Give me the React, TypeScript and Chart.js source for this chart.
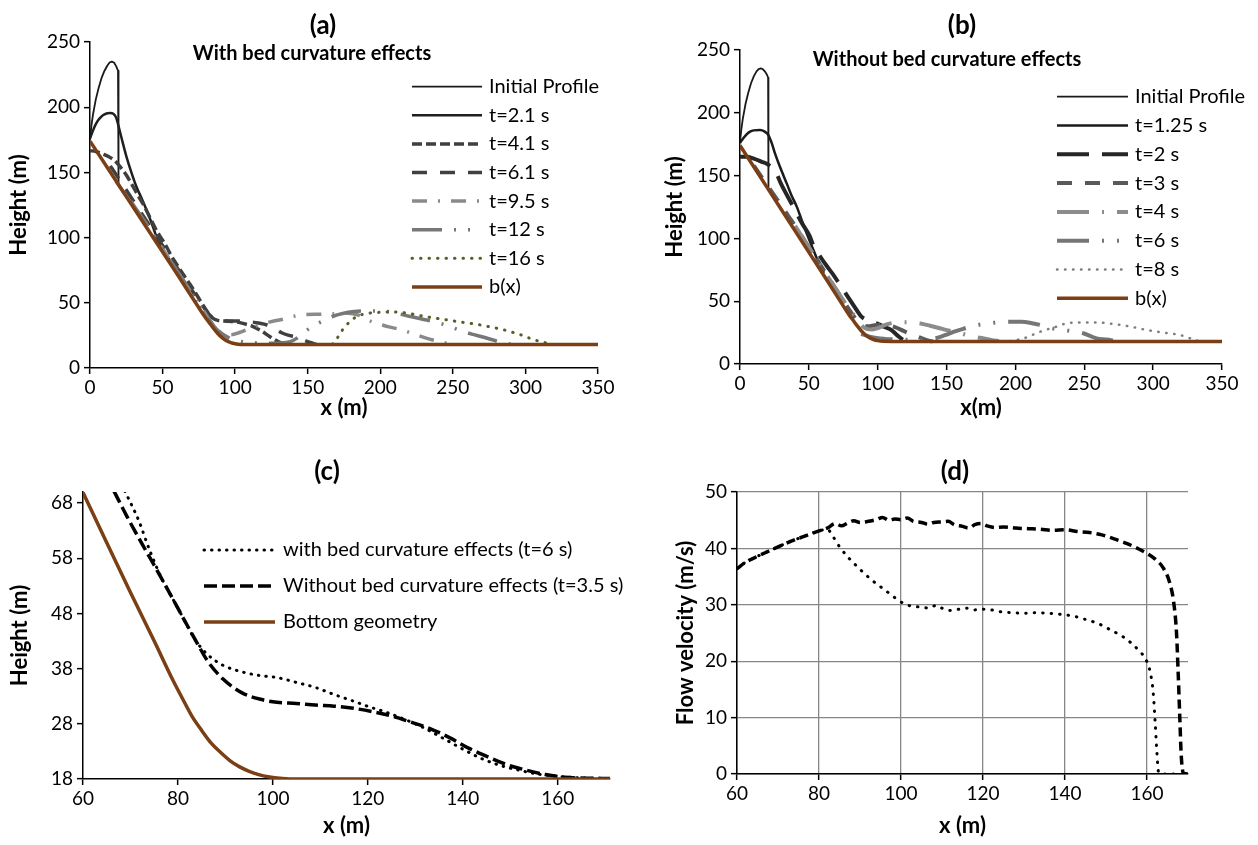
import React, { useEffect, useRef } from 'react';
import { Chart, registerables } from 'chart.js';

Chart.register(...registerables);

type Pt = [number, number];
const FONT = 'Lato, "Open Sans", "DejaVu Sans", sans-serif';
const BROWN = '#7b3f15';
const TICK_SIZE = 19;
const AXIS_TITLE_SIZE = 22;
const LEGEND_SIZE = 20;

// ---------------- Panel (a): with bed curvature ----------------
const A_LABELS = ['Initial Profile', 't=2.1 s', 't=4.1 s', 't=6.1 s', 't=9.5 s', 't=12 s', 't=16 s', 'b(x)'];
const A_INIT: Pt[] = [[0, 175], [1, 186], [2, 194], [3, 200], [4, 206], [6, 215], [8, 222.5], [10, 228], [12, 232], [13.5, 234.3], [15, 235], [16.5, 234.3], [18, 231.5], [19.3, 228], [19.6, 226], [19.7, 140]];
const A_T21: Pt[] = [[0, 176], [2, 182], [4, 187], [6, 190.5], [8, 193], [10, 194.5], [12, 195.3], [14, 195.5], [16, 195], [18, 192], [20, 184], [22.5, 173], [25, 162.5], [28.5, 150], [32, 139], [36, 129], [39, 121], [42.5, 111], [46, 100], [48, 95], [52, 88], [56, 80], [60, 73]];
const A_T41: Pt[] = [[0, 166.7], [4, 166], [9, 164], [13, 162], [17, 159], [21, 154], [25, 148], [29, 140.5], [33, 132.5], [37, 125], [41, 116], [46, 105], [50, 98], [53, 92.4], [56, 86], [60, 79], [65, 70.5], [69, 64], [73, 57], [76, 51.5], [80, 44.5], [84, 38.7], [88, 36.5], [94, 36], [100, 35.5], [106, 34], [112, 32], [118, 28.5], [124, 24], [130, 20], [135, 18.3]];
const A_T61: Pt[] = [[14, 155], [20, 145], [30, 128], [40, 111], [50, 94], [60, 77], [70, 60], [78, 47], [84, 39], [90, 36.5], [97, 36], [104, 36], [110, 35.5], [116, 34.5], [122, 33], [127, 30.5], [132, 27], [137, 25], [141, 24], [146, 22], [151, 19.8], [156, 18.2]];
const A_T95: Pt[] = [[18, 143], [25, 132], [32, 121], [40, 108.5], [50, 91.5], [60, 74.5], [70, 57.5], [78, 44.5], [84, 34], [88, 29], [92, 26], [97, 25.5], [103, 27.2], [110, 30.3], [118, 33.5], [126, 35.8], [133, 37.4], [140, 39.5], [147, 41], [155, 41.2], [163, 41.2], [170, 41.7], [178, 42], [185, 40.5], [190, 38], [194, 35.6], [200, 33.5], [206, 31.5], [214, 29.5], [222, 26.5], [230, 23.5], [238, 21], [245, 19.2], [252, 18.2]];
const A_T12: Pt[] = [[28, 128], [38, 112], [48, 95], [58, 78], [68, 61], [76, 47], [82, 37.5], [87, 30], [92, 25.5], [98, 22], [105, 20.2], [115, 19.2], [125, 19], [133, 19.3], [138, 20.2], [142, 22.5], [147, 27], [152, 31], [156, 33.5], [161, 36.5], [167, 39.5], [174, 41.8], [182, 43.3], [190, 43.8], [198, 43.8], [205, 43.3], [212, 41.8], [220, 39.7], [228.5, 37.6], [239, 35], [248, 31.7], [256, 28.4], [263, 26], [270, 24], [280, 20.7], [287, 18.8], [292, 18]];
const A_T16: Pt[] = [[167, 18.3], [169, 20.5], [171, 24], [173.5, 28.5], [176, 32], [179, 35.5], [182.5, 38.6], [188, 41.2], [194, 42.3], [200, 42.7], [209, 43], [215, 42.5], [220.5, 41.7], [226, 40.5], [232, 39.2], [243, 37.4], [255, 35.3], [266, 33.6], [278, 31], [286, 29], [292, 27.1], [298, 25], [303, 22.8], [308, 21], [312, 20], [316, 18.5], [320, 18]];
const BED_AB: Pt[] = [[0, 174], [20, 140], [40, 106], [60, 72], [76, 44.5], [79, 39.5], [82, 35], [85, 30.5], [88, 26.5], [91, 23.3], [94, 21], [97, 19.5], [100, 18.6], [104, 18.1], [110, 18], [350, 18]];

// ---------------- Panel (b): without bed curvature ----------------
const B_LABELS = ['Initial Profile', 't=1.25 s', 't=2 s', 't=3 s', 't=4 s', 't=6 s', 't=8 s', 'b(x)'];
const B_INIT: Pt[] = [[0, 177], [1, 187], [2, 195], [3, 201], [4, 207], [6, 216], [8, 223.5], [10, 229], [12, 233], [13.5, 234.8], [15, 235.3], [16.5, 234.8], [18, 233], [19.5, 230.5], [20.4, 228], [20.6, 226], [20.7, 140]];
const B_T125: Pt[] = [[0, 176], [2.4, 179.7], [5, 183], [7.3, 185], [10, 186], [14.5, 186.3], [18, 185], [20.6, 182.3], [23, 176], [25.4, 167.7], [29, 157], [33.9, 143.8], [37.5, 134], [41.2, 125.3], [45, 114], [48.4, 104], [53.3, 90.8], [57, 81], [61, 72.5]];
const B_T2: Pt[] = [[0, 165], [4.8, 165], [10, 163.5], [15.7, 161], [20, 159], [25.4, 154], [30, 143], [36.3, 130], [40, 122.6], [45, 112], [50.8, 101.4], [53, 95], [58, 86], [63, 78], [67.8, 71], [72.6, 63], [78, 54], [84.7, 43], [88, 38], [92, 35], [96, 33.5], [100, 32], [105, 29.5], [110, 27], [114, 23], [118, 19.5], [121, 18.2]];
const B_T3: Pt[] = [[10, 158], [15, 150], [20.6, 141], [25, 134], [29, 128], [35, 118], [40, 110], [45, 101.5], [50, 93], [55, 85], [60, 76], [65, 67.5], [70, 59], [75, 50.5], [80, 42], [84, 36], [88, 32], [93, 30], [99, 31], [105, 31], [112, 29.5], [120, 25.7], [126, 23], [132, 20.5], [137, 18.5], [140, 18]];
const B_T4: Pt[] = [[40, 110], [50, 93], [60, 76], [70, 59], [78, 46], [84, 37], [88, 31], [92, 28], [96, 27.5], [100, 28.5], [105, 31], [111, 32.7], [118, 33.2], [125, 33], [131, 32.3], [138, 30.5], [145, 28.5], [150, 27], [157, 25.5], [165, 23], [171, 21.5], [177, 20.4], [183, 19], [188, 18.2]];
const B_T6: Pt[] = [[88, 24], [95, 21.5], [105, 20], [115, 19.5], [125, 19.2], [135, 19.5], [142, 20.5], [148.8, 22.9], [155, 25.5], [162, 28], [171.8, 30.9], [181.5, 32.4], [193.7, 33.7], [204.5, 33.7], [212, 32.5], [219, 30.8], [226.3, 28.5], [235, 27], [242, 26], [249.3, 24.5], [255, 22], [259, 20.4], [266.7, 19.5], [272, 18.5], [276, 18]];
const B_T8: Pt[] = [[196, 18.2], [201, 19.2], [205.7, 20.3], [212, 23], [220, 26.5], [230, 29.8], [237.2, 32.4], [246.9, 33], [259, 33], [271, 31.9], [283.2, 29.8], [295.3, 27.1], [307.4, 25], [319.5, 23.1], [326.8, 20.5], [331, 19], [334, 18.2]];

// ---------------- Panel (c): surface comparison ----------------
const C_LABELS = ['with bed curvature effects (t=6 s)', 'Without bed curvature effects (t=3.5 s)', 'Bottom geometry'];
const C_WITH: Pt[] = [[68.8, 70.2], [71.7, 64.9], [74.1, 59.3], [76.6, 54.3], [79, 50.5], [81.4, 46.7], [83.8, 43], [86.3, 40.5], [89.5, 38.6], [93.5, 37.4], [97.6, 36.7], [100.8, 36.4], [104.9, 35.5], [108.9, 34.6], [112.9, 33.3], [117, 32.1], [120.2, 31.1], [123.5, 30.2], [127.5, 28.9], [131.5, 27.4], [135.6, 25.5], [139.6, 23.6], [143.7, 21.8], [147.7, 20.5], [151.8, 19.6], [155.8, 18.9], [159.8, 18.5], [163.9, 18.25], [171, 18]];
const C_WITHOUT: Pt[] = [[66.5, 70.2], [69.3, 65.5], [72.5, 60.5], [75.8, 55.5], [79, 50.5], [81.4, 46.7], [83.8, 43], [86.3, 39.3], [89.5, 36.1], [93.5, 33.6], [97.6, 32.4], [100.8, 31.9], [104.9, 31.7], [108.9, 31.4], [112.9, 31.2], [117, 30.8], [121, 30.2], [125.1, 29.4], [129.1, 28.3], [133.2, 27.1], [137.2, 25.5], [141.2, 23.6], [145.3, 22], [149.3, 20.6], [153.4, 19.6], [157.4, 18.8], [161.5, 18.3], [166, 18.15], [171, 18.1]];
const C_BED: Pt[] = [[60, 69.9], [65, 60.8], [70, 51.8], [75, 43], [79, 35.8], [81, 32.5], [83, 29.3], [85, 26.8], [87, 24.5], [89, 22.8], [91, 21.3], [93, 20.2], [95, 19.4], [97, 18.8], [99, 18.4], [102, 18.1], [105, 18], [171, 18]];

// ---------------- Panel (d): flow velocity ----------------
const D_LABELS = ['With bed curvature effects', 'Without bed curvature effects'];
const D_WITH: Pt[] = [[60, 36.4], [62, 37.5], [65, 38.6], [68, 39.6], [71, 40.6], [74, 41.5], [77, 42.3], [80, 43.1], [82, 43.4], [83.5, 42], [85, 40.3], [87, 38.5], [89, 37], [91, 35.6], [93, 34.3], [95, 33.2], [97, 32.1], [99, 31], [101, 30.1], [103, 29.7], [105, 29.6], [107, 29.4], [108.5, 29.9], [110, 29.4], [112, 29.0], [114, 29.2], [116, 29.4], [118, 29.1], [120, 29.2], [122, 29.1], [124, 28.8], [127, 28.6], [130, 28.5], [133, 28.6], [136, 28.5], [139, 28.3], [142, 28.0], [145, 27.4], [148, 26.7], [151, 25.6], [154, 24.4], [156, 23.3], [158, 21.9], [159.8, 20.2], [160.8, 18], [161.5, 14.5], [162, 9], [162.4, 4], [162.8, 0.4], [163.5, 0], [170, 0]];
const D_WITHOUT: Pt[] = [[60, 36.4], [62, 37.5], [65, 38.6], [68, 39.6], [71, 40.6], [74, 41.5], [77, 42.3], [80, 43.1], [82, 43.6], [84, 44.4], [85.5, 44.0], [87, 44.5], [88.5, 44.9], [90, 44.6], [92, 44.8], [94, 45.1], [95.5, 45.5], [97, 45.0], [98.5, 45.2], [100, 45.1], [101.5, 45.4], [103, 44.8], [105, 44.6], [106.5, 44.3], [108, 44.6], [110, 44.7], [111.5, 44.8], [113, 44.2], [115, 43.9], [116.5, 43.6], [118, 44.2], [119.5, 44.4], [121, 44.0], [123, 43.7], [125, 43.8], [128, 43.6], [131, 43.5], [134, 43.4], [137, 43.2], [140, 43.3], [143, 43.0], [146, 42.8], [149, 42.4], [152, 41.7], [155, 40.9], [158, 39.9], [160, 39.1], [162, 38.1], [164, 36.5], [165.5, 34], [166.5, 30.5], [167.2, 25], [167.6, 18], [168, 10], [168.3, 4], [168.6, 1], [169, 0.1], [170, 0]];

// ---------------- ticks ----------------
const AB_X_TICKS = [0, 50, 100, 150, 200, 250, 300, 350];
const AB_Y_TICKS = [0, 50, 100, 150, 200, 250];
const C_X_TICKS = [60, 80, 100, 120, 140, 160];
const C_Y_TICKS = [18, 28, 38, 48, 58, 68];
const D_X_TICKS = [60, 80, 100, 120, 140, 160];
const D_Y_TICKS = [0, 10, 20, 30, 40, 50];

const insideLegend = {
  id: 'insideLegend',
  afterDraw(chart: any, _args: any, o: any) {
    if (!o || !o.show) return;
    const ctx = chart.ctx;
    ctx.save();
    chart.data.datasets.forEach((ds: any, i: number) => {
      const y = o.y0 + i * o.dy;
      ctx.beginPath();
      ctx.setLineDash(ds.borderDash || []);
      ctx.lineCap = ds.borderCapStyle || 'butt';
      ctx.lineWidth = ds.borderWidth;
      ctx.strokeStyle = ds.borderColor;
      ctx.moveTo(o.x0, y);
      ctx.lineTo(o.x1, y);
      ctx.stroke();
      ctx.setLineDash([]);
      ctx.fillStyle = '#000';
      ctx.font = `${o.size}px ${FONT}`;
      ctx.textBaseline = 'middle';
      ctx.textAlign = 'left';
      ctx.fillText(ds.label, o.tx, y);
    });
    ctx.restore();
  },
};

function ds(label: string, data: Pt[], color: string, width: number, dash: number[], order: number, opts: any = {}) {
  return {
    label,
    data: data.map(([x, y]) => ({ x, y })),
    borderColor: color,
    backgroundColor: color,
    borderWidth: width,
    borderDash: dash,
    borderCapStyle: opts.cap || 'butt',
    borderJoinStyle: 'round',
    pointRadius: 0,
    pointHoverRadius: 0,
    fill: false,
    cubicInterpolationMode: opts.straight ? 'default' : 'monotone',
    tension: opts.straight ? 0 : 0.4,
    order,
  };
}

function xScale(min: number, max: number, ticks: number[], title: string, height: number, tpb: number, grid: boolean) {
  return {
    type: 'linear', position: 'bottom', min, max,
    afterBuildTicks: (s: any) => { s.ticks = ticks.map((v) => ({ value: v })); },
    afterFit: (s: any) => { s.height = height; },
    border: { display: true, color: '#000', width: 1.5 },
    grid: { display: true, drawOnChartArea: grid, color: '#878787', lineWidth: 1.3, drawTicks: true, tickLength: 6, tickColor: '#000', tickWidth: 1.5 },
    ticks: { color: '#000', font: { family: FONT, size: TICK_SIZE }, padding: 2, autoSkip: false, maxRotation: 0 },
    title: { display: true, text: title, color: '#000', font: { family: FONT, size: AXIS_TITLE_SIZE, weight: 'bold' }, padding: { top: 0, bottom: tpb } },
  };
}

function yScale(min: number, max: number, ticks: number[], title: string, width: number, tpt: number, grid: boolean) {
  return {
    type: 'linear', position: 'left', min, max,
    afterBuildTicks: (s: any) => { s.ticks = ticks.map((v) => ({ value: v })); },
    afterFit: (s: any) => { s.width = width; },
    border: { display: true, color: '#000', width: 1.5 },
    grid: { display: true, drawOnChartArea: grid, color: '#878787', lineWidth: 1.3, drawTicks: true, tickLength: 6, tickColor: '#000', tickWidth: 1.5 },
    ticks: { color: '#000', font: { family: FONT, size: TICK_SIZE }, padding: 4, autoSkip: false },
    title: { display: true, text: title, color: '#000', font: { family: FONT, size: AXIS_TITLE_SIZE, weight: 'bold' }, padding: { top: tpt, bottom: 0 } },
  };
}

function baseConfig(datasets: any[], padding: any, x: any, y: any, legend: any) {
  return {
    type: 'line',
    data: { datasets },
    options: {
      responsive: false,
      animation: false,
      layout: { padding },
      scales: { x, y },
      plugins: { legend: { display: false }, tooltip: { enabled: false }, insideLegend: legend },
      events: [],
    },
    plugins: [insideLegend],
  };
}

function configA() {
  const n = 8;
  const datasets = [
    ds(A_LABELS[0], A_INIT, '#1a1a1a', 1.8, [], n - 0, { straight: true }),
    ds(A_LABELS[1], A_T21, '#1f1f1f', 2.5, [], n - 1),
    ds(A_LABELS[2], A_T41, '#3f3f3f', 3.5, [10, 4], n - 2),
    ds(A_LABELS[3], A_T61, '#404040', 3.5, [15, 13], n - 3),
    ds(A_LABELS[4], A_T95, '#8a8a8a', 3.5, [15, 11, 2, 11], n - 4),
    ds(A_LABELS[5], A_T12, '#777777', 3.5, [30, 12, 2, 12, 2, 12], n - 5),
    ds(A_LABELS[6], A_T16, '#4f6228', 3, [0.5, 8], n - 6, { cap: 'round' }),
    ds(A_LABELS[7], BED_AB, BROWN, 3.5, [], 0),
  ];
  return baseConfig(
    datasets,
    { left: 6, right: 31, top: 42, bottom: 0 },
    xScale(0, 350, AB_X_TICKS, 'x (m)', 72, 18.8, false),
    yScale(0, 250, AB_Y_TICKS, 'Height (m)', 84, 0, false),
    { show: true, x0: 412, x1: 482, tx: 489, y0: 86.7, dy: 28.6, size: LEGEND_SIZE },
  );
}

function configB() {
  const n = 8;
  const datasets = [
    ds(B_LABELS[0], B_INIT, '#1a1a1a', 1.8, [], n - 0, { straight: true }),
    ds(B_LABELS[1], B_T125, '#1a1a1a', 2.5, [], n - 1),
    ds(B_LABELS[2], B_T2, '#262626', 4, [32, 13], n - 2),
    ds(B_LABELS[3], B_T3, '#595959', 4, [15, 13], n - 3),
    ds(B_LABELS[4], B_T4, '#8c8c8c', 4, [32, 13, 2, 13], n - 4),
    ds(B_LABELS[5], B_T6, '#767676', 4, [32, 13, 2, 13, 2, 13], n - 5),
    ds(B_LABELS[6], B_T8, '#7f7f7f', 2.5, [0.5, 7.5], n - 6, { cap: 'round' }),
    ds(B_LABELS[7], BED_AB, BROWN, 3.5, [], 0),
  ];
  return baseConfig(
    datasets,
    { left: 33, right: 36, top: 50, bottom: 0 },
    xScale(0, 350, AB_X_TICKS, 'x(m)', 76, 18.8, false),
    yScale(0, 250, AB_Y_TICKS, 'Height (m)', 78, 0, false),
    { show: true, x0: 428, x1: 499, tx: 506, y0: 96.7, dy: 28.8, size: LEGEND_SIZE },
  );
}

function configC() {
  const datasets = [
    ds(C_LABELS[0], C_WITH, '#000', 3, [0.5, 7], 2, { cap: 'round' }),
    ds(C_LABELS[1], C_WITHOUT, '#000', 3.5, [13, 5], 1),
    ds(C_LABELS[2], C_BED, BROWN, 3.5, [], 0),
  ];
  return baseConfig(
    datasets,
    { left: 7, right: 30, top: 72, bottom: 0 },
    xScale(60, 171, C_X_TICKS, 'x (m)', 81, 20.8, false),
    yScale(18, 70, C_Y_TICKS, 'Height (m)', 76, 0, false),
    { show: true, x0: 204, x1: 275, tx: 283, y0: 130, dy: 36, size: LEGEND_SIZE },
  );
}

function configD() {
  const datasets = [
    ds(D_LABELS[0], D_WITH, '#000', 3, [0.5, 8], 1, { cap: 'round' }),
    ds(D_LABELS[1], D_WITHOUT, '#000', 3.5, [9, 5], 0),
  ];
  return baseConfig(
    datasets,
    { left: 44, right: 70, top: 72, bottom: 0 },
    xScale(60, 170, D_X_TICKS, 'x (m)', 86, 20.8, true),
    yScale(0, 50, D_Y_TICKS, 'Flow velocity (m/s)', 64, 0, true),
    { show: false },
  );
}

function Panel({ left, top, width, height, make }: { left: number; top: number; width: number; height: number; make: () => any }) {
  const ref = useRef<HTMLCanvasElement>(null);
  useEffect(() => {
    const chart = new Chart(ref.current as HTMLCanvasElement, make());
    return () => chart.destroy();
  }, []);
  return (
    <div style={{ position: 'absolute', left, top, width, height }}>
      <canvas ref={ref} width={width} height={height} style={{ width, height, display: 'block' }} />
    </div>
  );
}

function Label({ x, y, size, text }: { x: number; y: number; size: number; text: string }) {
  return (
    <div
      style={{
        position: 'absolute', left: x, top: y, transform: 'translate(-50%, -50%)',
        fontFamily: FONT, fontWeight: 'bold', fontSize: size, whiteSpace: 'nowrap', color: '#000', lineHeight: 1,
      }}
    >
      {text}
    </div>
  );
}

export default function App() {
  return (
    <div style={{ position: 'absolute', left: 0, top: 0, width: 1258, height: 845, background: '#fff', overflow: 'hidden' }}>
      <Panel left={0} top={0} width={629} height={440} make={configA} />
      <Panel left={629} top={0} width={629} height={440} make={configB} />
      <Panel left={0} top={420} width={640} height={440} make={configC} />
      <Panel left={629} top={420} width={629} height={440} make={configD} />
      <Label x={323} y={24} size={26} text="(a)" />
      <Label x={312} y={52} size={20} text="With bed curvature effects" />
      <Label x={962} y={24} size={26} text="(b)" />
      <Label x={947} y={58} size={20} text="Without bed curvature effects" />
      <Label x={327} y={470} size={26} text="(c)" />
      <Label x={955} y={470} size={26} text="(d)" />
    </div>
  );
}
